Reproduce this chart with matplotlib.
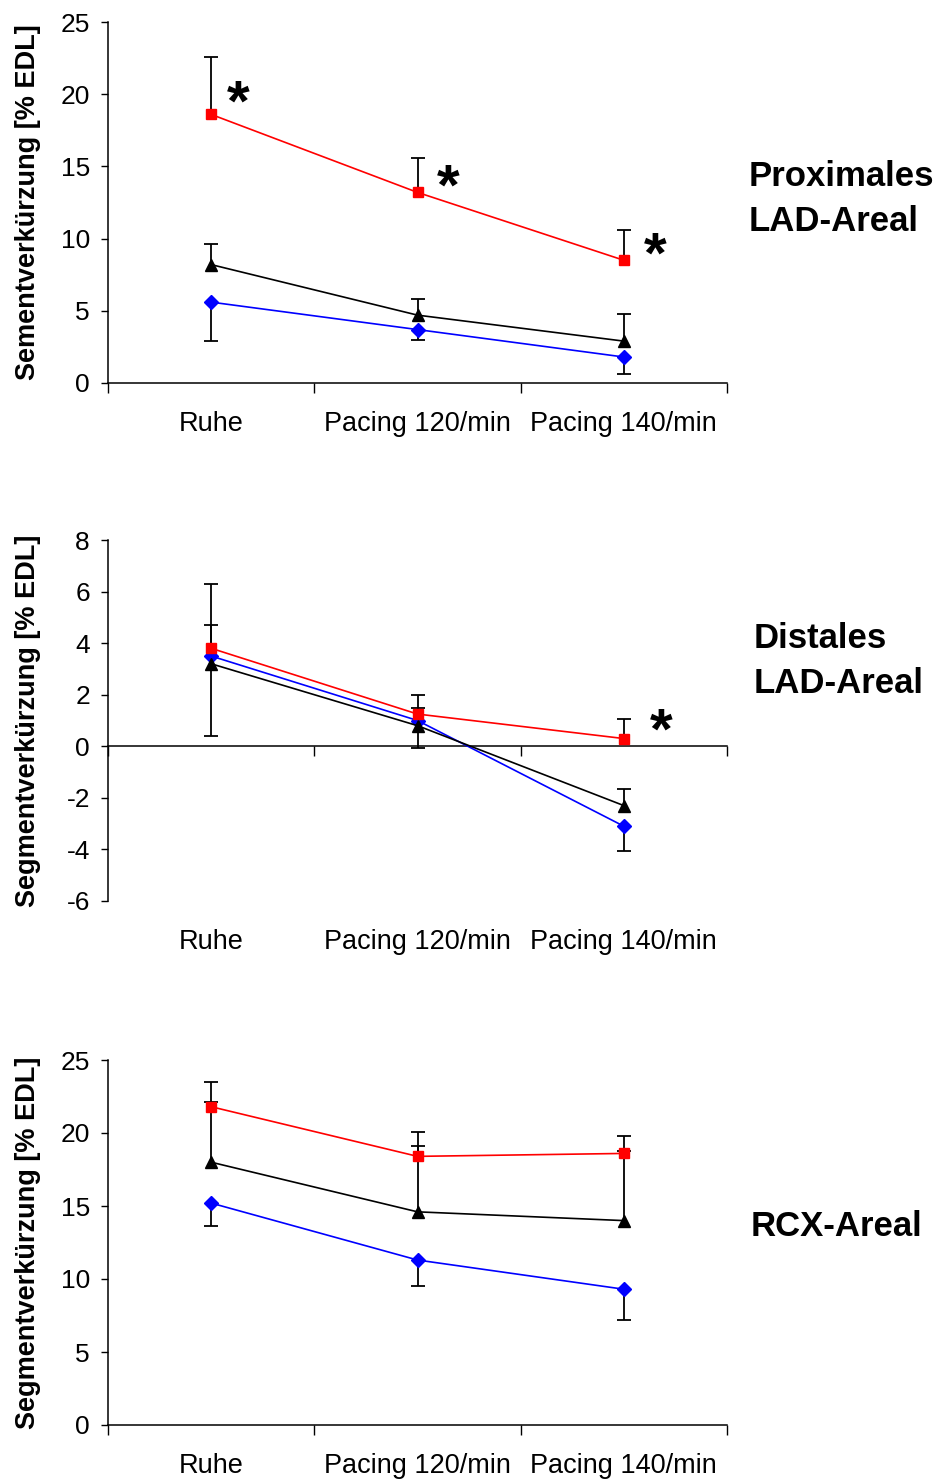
import numpy as np
import matplotlib
matplotlib.use("Agg")
import matplotlib.pyplot as plt

plt.rcParams["font.family"] = ["Liberation Sans", "DejaVu Sans"]
plt.rcParams["axes.unicode_minus"] = False

# x categories
categories = ["Ruhe", "Pacing 120/min", "Pacing 140/min"]

# Proximales LAD-Areal
prox_red = [18.6, 13.2, 8.5]
prox_red_up = [4.0, 2.4, 2.1]
prox_black = [8.2, 4.7, 2.9]
prox_black_up = [1.4, 1.1, 1.9]
prox_blue = [5.6, 3.7, 1.8]
prox_blue_down = [2.7, 0.7, 1.2]

# Distales LAD-Areal
dist_red = [3.8, 1.25, 0.3]
dist_red_up = [2.5, 0.75, 0.75]
dist_black = [3.2, 0.8, -2.3]
dist_black_up = [1.5, 0.7, 0.65]
dist_blue = [3.5, 1.0, -3.1]
dist_blue_down = [3.1, 1.05, 0.95]

# RCX-Areal
rcx_red = [21.8, 18.4, 18.6]
rcx_red_up = [1.7, 1.7, 1.2]
rcx_black = [18.0, 14.6, 14.0]
rcx_black_up = [4.1, 4.5, 4.8]
rcx_blue = [15.2, 11.3, 9.3]
rcx_blue_down = [1.6, 1.8, 2.1]

W, H = 942, 1479
fig = plt.figure(figsize=(W / 100, H / 100), dpi=100)


def px_axes(left, top, right, bottom):
    return fig.add_axes([left / W, 1 - bottom / H, (right - left) / W, (bottom - top) / H])


def one_sided_err(ax, x, y, err, sign):
    # error bar drawn only on one side, cap at the far end only
    ends = np.asarray(y) + sign * np.asarray(err)
    ax.vlines(x, y, ends, color="black", lw=1.3, zorder=2)
    ax.plot(x, ends, ls="none", marker="_", ms=10, mew=1.3, color="black", zorder=2)


def draw_panel(ax, red, red_up, black, black_up, blue, blue_down, ylim, yticks, ylabel, zero_axis=False):
    x = np.arange(len(categories)) + 0.5
    one_sided_err(ax, x, red, red_up, 1)
    one_sided_err(ax, x, black, black_up, 1)
    one_sided_err(ax, x, blue, blue_down, -1)
    ax.plot(x, blue, color="#0000ff", marker="D", markersize=7, lw=1.2, zorder=3)
    ax.plot(x, black, color="black", marker="^", markersize=8, lw=1.2, zorder=3)
    ax.plot(x, red, color="#ff0000", marker="s", markersize=7, lw=1.2, zorder=4)

    ax.set_xlim(0, 3)
    ax.set_ylim(*ylim)
    ax.set_yticks(yticks)
    ax.set_xticks([0, 1, 2, 3])
    ax.set_xticklabels([])
    for s in ["top", "right"]:
        ax.spines[s].set_visible(False)
    for s in ["left", "bottom"]:
        ax.spines[s].set_linewidth(1.1)
    if zero_axis:
        ax.spines["bottom"].set_position(("data", 0))
    ax.tick_params(axis="y", direction="out", length=5, width=1, labelsize=19, pad=8)
    ax.tick_params(axis="x", direction="out", length=7, width=1)
    for xi, lab in zip(x, categories):
        ax.text(xi, -0.113, lab, transform=ax.get_xaxis_transform(),
                ha="center", va="center", fontsize=19.5)
    ax.set_ylabel(ylabel, fontsize=19.5, fontweight="bold")
    ax.yaxis.set_label_coords(-0.108, 0.5)


ax1 = px_axes(108, 22, 727, 383)
draw_panel(ax1, prox_red, prox_red_up, prox_black, prox_black_up, prox_blue, prox_blue_down,
           (0, 25), [0, 5, 10, 15, 20, 25], "Sementverkürzung [% EDL]")
ax2 = px_axes(108, 540, 727, 901)
draw_panel(ax2, dist_red, dist_red_up, dist_black, dist_black_up, dist_blue, dist_blue_down,
           (-6, 8), [-6, -4, -2, 0, 2, 4, 6, 8], "Segmentverkürzung [% EDL]", zero_axis=True)
ax3 = px_axes(108, 1060, 727, 1425)
draw_panel(ax3, rcx_red, rcx_red_up, rcx_black, rcx_black_up, rcx_blue, rcx_blue_down,
           (0, 25), [0, 5, 10, 15, 20, 25], "Segmentverkürzung [% EDL]")

# significance stars
star = dict(fontsize=42, fontweight="bold", ha="center", va="center")
ax1.text(0.63, 19.2, "*", **star)
ax1.text(1.65, 13.4, "*", **star)
ax1.text(2.65, 8.7, "*", **star)
ax2.text(2.68, 0.5, "*", **star)

# panel titles on the right
lab = dict(fontsize=25, fontweight="bold", ha="left", va="center", linespacing=1.45)
fig.text(749 / W, 1 - 199 / H, "Proximales\nLAD-Areal", **lab)
fig.text(754 / W, 1 - 661 / H, "Distales\nLAD-Areal", **lab)
fig.text(751 / W, 1 - 1226 / H, "RCX-Areal", **lab)

fig.savefig("out.png", dpi=100)
